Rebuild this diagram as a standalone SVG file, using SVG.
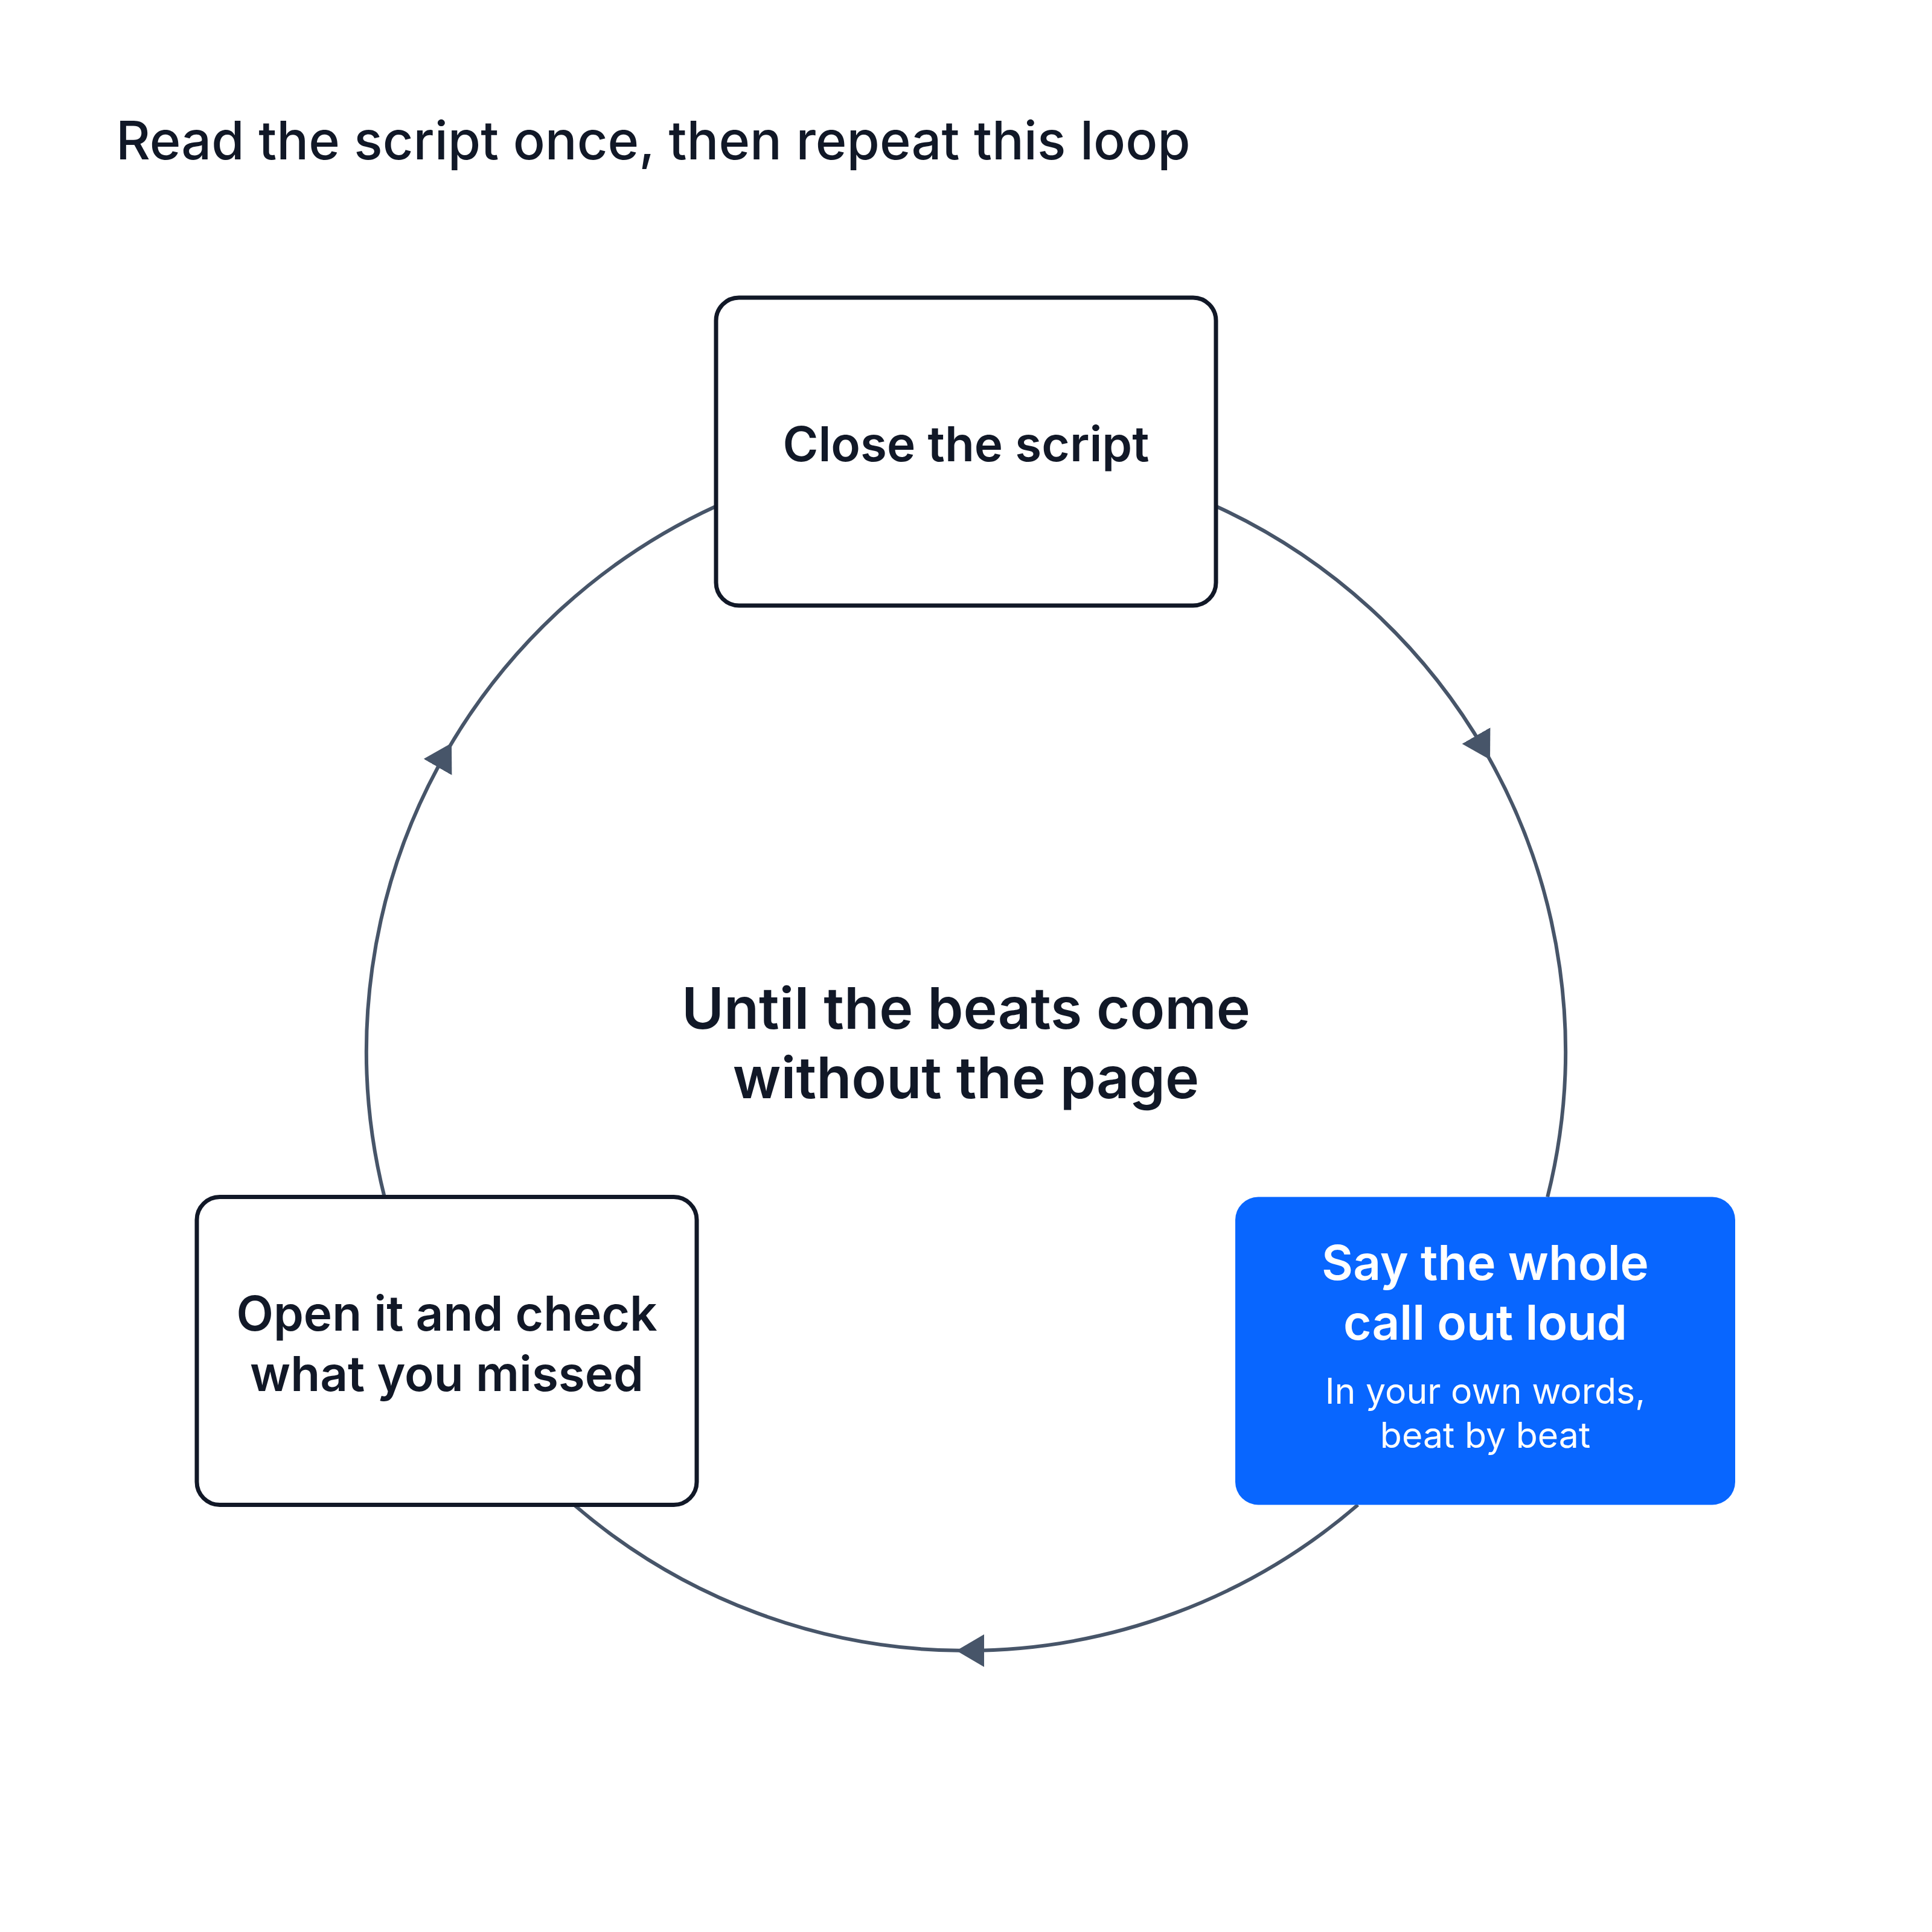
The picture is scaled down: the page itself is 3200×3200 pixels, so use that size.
<svg xmlns="http://www.w3.org/2000/svg" width="3200" height="3200" viewBox="0 0 3200 3200">
  <style>
    .title { font-family: Inter, "Liberation Sans", sans-serif; font-size: 88px; font-weight: 500; fill: #111827; }
    .node-box { fill: #ffffff; stroke: #111827; stroke-width: 7; }
    .node-box-accent { fill: #0866ff; stroke: none; }
    .node-text { font-family: Inter, "Liberation Sans", sans-serif; font-size: 80px; font-weight: 600; fill: #111827; text-anchor: middle; }
    .node-text-accent { font-family: Inter, "Liberation Sans", sans-serif; font-size: 80px; font-weight: 600; fill: #ffffff; text-anchor: middle; }
    .node-sub-accent { font-family: Inter, "Liberation Sans", sans-serif; font-size: 59px; font-weight: 400; fill: #ffffff; text-anchor: middle; }
    .center-text { font-family: Inter, "Liberation Sans", sans-serif; font-size: 95px; font-weight: 600; fill: #111827; text-anchor: middle; }
    .connector { fill: none; stroke: #475569; stroke-width: 6; marker-mid: url(#arrow); }
  </style>
  <defs>
    <marker id="arrow" markerUnits="userSpaceOnUse" markerWidth="46" markerHeight="56" viewBox="0 0 46 56" refX="30" refY="28" orient="auto">
      <path d="M0,1 L46,28 L0,55 Z" fill="#475569"/>
    </marker>
  </defs>
  <rect width="3200" height="3200" fill="#ffffff"/>

  <text class="title" x="192" y="264">Read the script once, then repeat this loop</text>

  <g id="connectors">
    <path id="edge-close-say" class="connector" d="M2014,838.4 A993,993 0 0,1 2460,1244.5 A993,993 0 0,1 2563.2,1982.5"/>
    <path id="edge-say-open" class="connector" d="M2249.1,2492.5 A993,993 0 0,1 1600,2734 A993,993 0 0,1 950.9,2492.5"/>
    <path id="edge-open-close" class="connector" d="M636.8,1982.5 A993,993 0 0,1 740,1244.5 A993,993 0 0,1 1186,838.4"/>
  </g>

  <g id="center-label">
    <text class="center-text" x="1600" y="1704">Until the beats come</text>
    <text class="center-text" x="1600" y="1819">without the page</text>
  </g>

  <g id="node-close">
    <rect class="node-box" x="1186" y="493" width="828" height="510" rx="38"/>
    <text class="node-text" x="1600" y="764">Close the script</text>
  </g>

  <g id="node-say">
    <rect class="node-box-accent" x="2046" y="1982.5" width="828" height="510" rx="38"/>
    <text class="node-text-accent" x="2460" y="2120">Say the whole</text>
    <text class="node-text-accent" x="2460" y="2219">call out loud</text>
    <text class="node-sub-accent" x="2460" y="2325">In your own words,</text>
    <text class="node-sub-accent" x="2460" y="2398">beat by beat</text>
  </g>

  <g id="node-open">
    <rect class="node-box" x="326" y="1982.5" width="828" height="510" rx="38"/>
    <text class="node-text" x="740" y="2204">Open it and check</text>
    <text class="node-text" x="740" y="2304">what you missed</text>
  </g>
</svg>
